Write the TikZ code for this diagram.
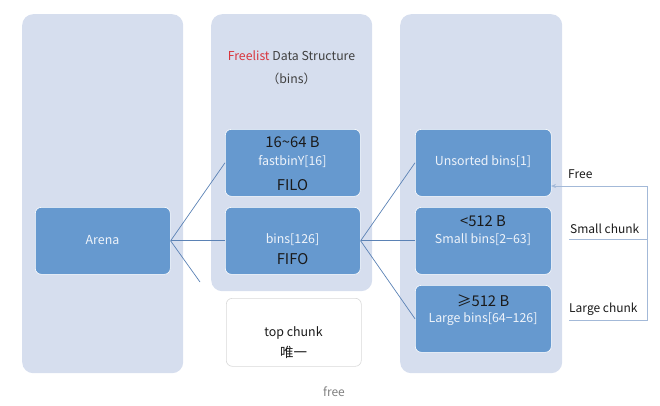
\documentclass[tikz,border=0pt]{standalone}
\usepackage{fontspec}
\setmainfont{Noto Sans CJK SC}
\usetikzlibrary{arrows.meta}
\definecolor{panelc}{HTML}{D6DEEE}
\definecolor{boxc}{HTML}{6699CF}
\definecolor{linec}{HTML}{5B82B5}
\definecolor{fbc}{HTML}{A3B9D8}
\definecolor{lighttxt}{HTML}{EEF3FA}
\definecolor{darktxt}{HTML}{1A1A1A}
\definecolor{redtxt}{HTML}{D9363E}
\definecolor{greytxt}{HTML}{404040}
\tikzset{
  panelbox/.style={fill=panelc, draw=none, rounded corners=11pt, anchor=north west, inner sep=0pt},
  binbox/.style={fill=boxc, draw=white, line width=0.6pt, rounded corners=6pt, anchor=north west, inner sep=0pt},
  topbox/.style={fill=white, draw=black!15, line width=0.6pt, rounded corners=6pt, anchor=north west, inner sep=0pt},
  lt/.style={text=lighttxt, font=\fontsize{12.4}{14}\selectfont, inner sep=0pt},
  dk/.style={text=darktxt, font=\fontsize{14.8}{16}\selectfont, inner sep=0pt},
  sidetxt/.style={text=darktxt, font=\fontsize{12}{14}\selectfont, inner sep=0pt, anchor=west},
  conn/.style={draw=linec, line width=0.7pt},
  fb/.style={draw=fbc, line width=0.7pt},
}
\begin{document}
\begin{tikzpicture}[x=1pt,y=-1pt]
\useasboundingbox (0,0) rectangle (660,405);
% panels
\node[panelbox, minimum width=161pt, minimum height=359pt] (pl) at (22,14) {};
\node[panelbox, minimum width=161pt, minimum height=277pt] (pm) at (211,14) {};
\node[panelbox, minimum width=162pt, minimum height=359pt] (pr) at (400,14) {};
% boxes
\node[binbox, minimum width=135pt, minimum height=67pt] (arena) at (35,207) {};
\node[binbox, minimum width=135pt, minimum height=67pt] (fast) at (225,129) {};
\node[binbox, minimum width=135pt, minimum height=67pt] (bins) at (225,207) {};
\node[topbox, minimum width=135pt, minimum height=68pt] (top) at (226,298) {};
\node[binbox, minimum width=136pt, minimum height=67pt] (uns) at (415,129) {};
\node[binbox, minimum width=136pt, minimum height=67pt] (small) at (415,207) {};
\node[binbox, minimum width=136pt, minimum height=67pt] (large) at (415,285) {};
% texts
\node[font=\fontsize{12.3}{14}\selectfont, inner sep=0pt] (title) at (291.5,56) {\textcolor{redtxt}{Freelist} \textcolor{greytxt}{Data Structure}};
\node[font=\fontsize{12.3}{14}\selectfont, text=greytxt, inner sep=0pt] (binst) at (291.5,79) {（bins）};
\node[lt] (arenat) at (102.5,240) {Arena};
\node[dk] (fast1) at (292.5,142) {16\textasciitilde64 B};
\node[lt] (fast2) at (292.5,162) {fastbinY[16]};
\node[dk] (fast3) at (292.5,185) {FILO};
\node[lt] (bins1) at (292.5,240) {bins[126]};
\node[dk] (bins2) at (292.5,259) {FIFO};
\node[lt] (uns1) at (483,162) {Unsorted bins[1]};
\node[dk] (small1) at (483,221) {<512 B};
\node[lt] (small2) at (483,240) {Small bins[2−63]};
\node[dk] (large1) at (483,301) {≥512 B};
\node[lt] (large2) at (483,319) {Large bins[64−126]};
\node[text=darktxt, font=\fontsize{12.4}{14}\selectfont, inner sep=0pt] (top1) at (293.5,333) {top chunk};
\node[text=darktxt, font=\fontsize{13.5}{15}\selectfont, inner sep=0pt] (top2) at (293.5,352) {唯一};
\node[text=black!50, font=\fontsize{12}{14}\selectfont, inner sep=0pt] (freet) at (334,392) {free};
\node[sidetxt] (freel) at (568,174) {Free};
\node[sidetxt] (smallc) at (570,229) {Small chunk};
\node[sidetxt] (largec) at (569,309) {Large chunk};
% connectors
\coordinate (loose) at (200,282);
\draw[conn] (arena.east) -- (fast.west);
\draw[conn] (arena.east) -- (bins.west);
\draw[conn] (arena.east) -- (loose);
\draw[conn] (bins.east) -- (uns.west);
\draw[conn] (bins.east) -- (small.west);
\draw[conn] (bins.east) -- (large.west);
% feedback
\coordinate (ftop) at (647,186);
\coordinate (fbot) at (647,320);
\coordinate (fmid) at (647,239);
\coordinate (smallend) at (569,239);
\coordinate (largeend) at (569,320);
\coordinate (arrowtip) at (551,186);
\draw[fb, -{Stealth[length=5pt,width=4pt]}] (largeend) -- (fbot) -- (ftop) -- (arrowtip);
\draw[fb] (smallend) -- (fmid);
\end{tikzpicture}
\end{document}
